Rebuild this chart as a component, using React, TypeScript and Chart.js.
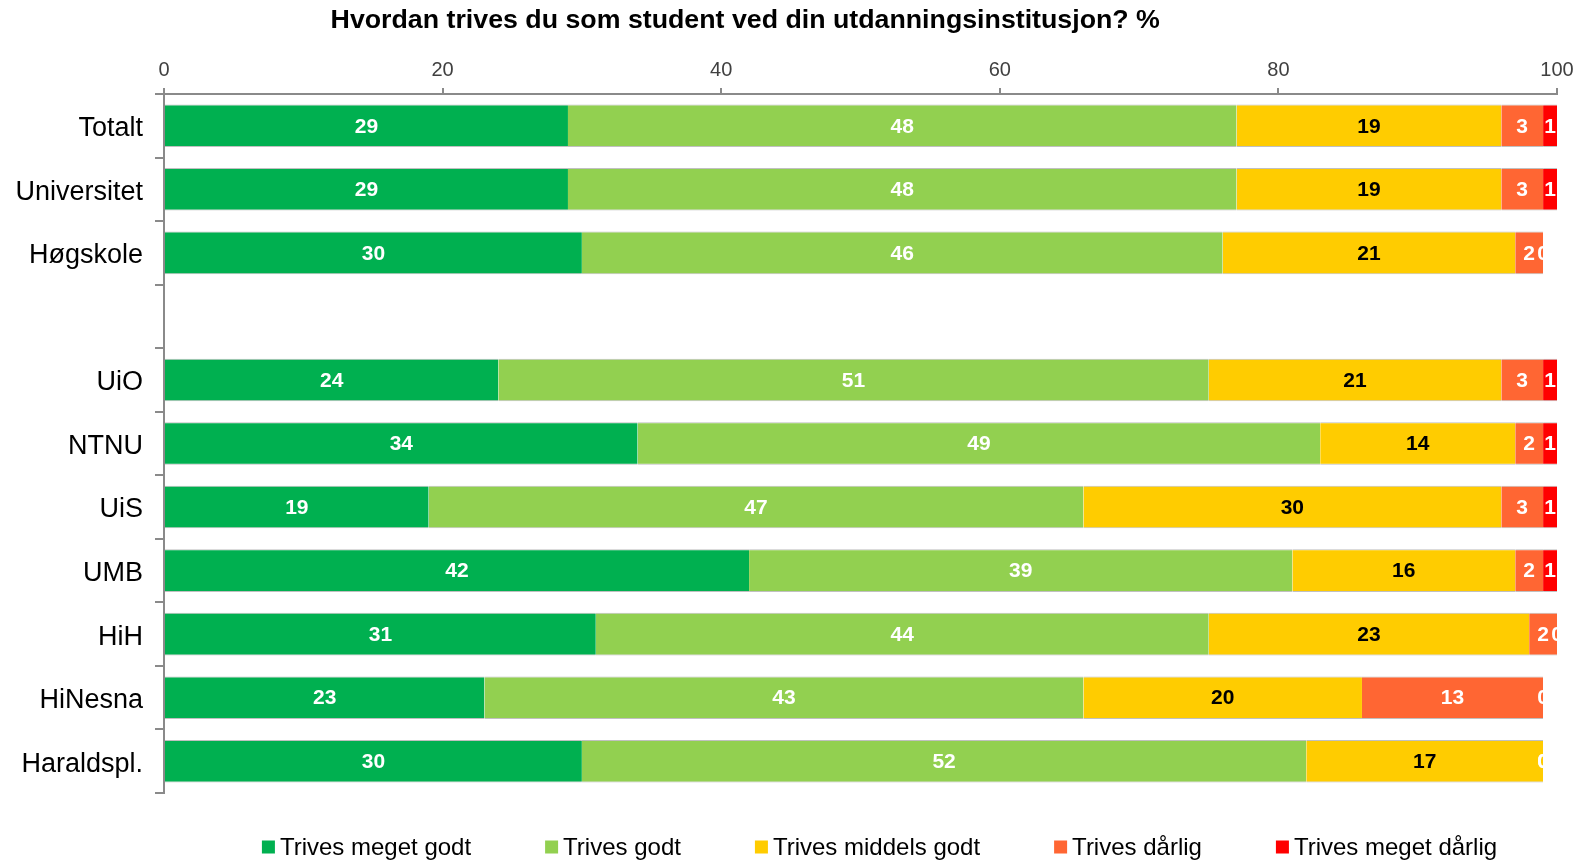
import { useEffect, useRef } from 'react';
import { Chart, registerables } from 'chart.js';

Chart.register(...registerables);

const TITLE = 'Hvordan trives du som student ved din utdanningsinstitusjon? %';

const categories = ['Totalt', 'Universitet', 'Høgskole', '', 'UiO', 'NTNU', 'UiS', 'UMB', 'HiH', 'HiNesna', 'Haraldspl.'];

const seriesNames = ['Trives meget godt', 'Trives godt', 'Trives middels godt', 'Trives dårlig', 'Trives meget dårlig'];

const trivesMegetGodt = [29, 29, 30, null, 24, 34, 19, 42, 31, 23, 30];
const trivesGodt = [48, 48, 46, null, 51, 49, 47, 39, 44, 43, 52];
const trivesMiddelsGodt = [19, 19, 21, null, 21, 14, 30, 16, 23, 20, 17];
const trivesDarlig = [3, 3, 2, null, 3, 2, 3, 2, 2, 13, 0];
const trivesMegetDarlig = [1, 1, 0, null, 1, 1, 1, 1, 0, 0, 0];

const seriesColors = ['#00B050', '#92D050', '#FFCC00', '#FF6633', '#FF0000'];
const labelColors = ['#FFFFFF', '#FFFFFF', '#000000', '#FFFFFF', '#FFFFFF'];

const xTicks = [0, 20, 40, 60, 80, 100];

const FONT = '"Liberation Sans", Arial, Helvetica, sans-serif';

const titlePlugin = {
  id: 'customTitle',
  afterDraw(chart: any) {
    const ctx = chart.ctx;
    ctx.save();
    ctx.font = `bold 25px ${FONT}`;
    ctx.fillStyle = '#000000';
    ctx.textAlign = 'center';
    ctx.textBaseline = 'middle';
    ctx.translate(chart.width * 0.469, 21);
    ctx.scale(1.07, 1);
    ctx.fillText(TITLE, 0, 0);
    ctx.restore();
  },
};

const dataLabelPlugin = {
  id: 'dataLabels',
  afterDatasetsDraw(chart: any) {
    const ctx = chart.ctx;
    ctx.save();
    ctx.font = `bold 21px ${FONT}`;
    ctx.textAlign = 'center';
    ctx.textBaseline = 'middle';
    chart.data.datasets.forEach((ds: any, di: number) => {
      const meta = chart.getDatasetMeta(di);
      meta.data.forEach((el: any, i: number) => {
        const v = ds.data[i];
        if (v === null || v === undefined) return;
        const { x, base, y } = el.getProps(['x', 'base', 'y'], true);
        ctx.fillStyle = labelColors[di];
        ctx.fillText(String(v), (x + base) / 2, y + 1);
      });
    });
    ctx.restore();
  },
};

const legendPlugin = {
  id: 'customLegend',
  afterDraw(chart: any) {
    const ctx = chart.ctx;
    const area = chart.chartArea;
    ctx.save();
    ctx.font = `24px ${FONT}`;
    const box = 13;
    const gap = 5;
    const spacing = 74;
    const widths = seriesNames.map((n) => box + gap + ctx.measureText(n).width);
    const total = widths.reduce((a, b) => a + b, 0) + spacing * (widths.length - 1);
    let x = (area.left + area.right) / 2 + 19 - total / 2;
    const y = area.bottom + 54;
    seriesNames.forEach((n, i) => {
      ctx.fillStyle = seriesColors[i];
      ctx.fillRect(x, y - box / 2, box, box);
      ctx.fillStyle = '#000000';
      ctx.textAlign = 'left';
      ctx.textBaseline = 'middle';
      ctx.fillText(n, x + box + gap, y + 1);
      x += widths[i] + spacing;
    });
    ctx.restore();
  },
};

export default function App() {
  const canvasRef = useRef<HTMLCanvasElement | null>(null);

  useEffect(() => {
    if (!canvasRef.current) return;
    Chart.defaults.font.family = FONT;
    const seriesData = [trivesMegetGodt, trivesGodt, trivesMiddelsGodt, trivesDarlig, trivesMegetDarlig];
    const chart = new Chart(canvasRef.current, {
      type: 'bar',
      data: {
        labels: categories,
        datasets: seriesNames.map((name, i) => ({
          label: name,
          data: seriesData[i],
          backgroundColor: seriesColors[i],
          borderColor: '#C0C0C0',
          borderWidth: { top: 1, bottom: 1, left: 0, right: 0 },
          borderSkipped: false,
          barPercentage: 0.67,
          categoryPercentage: 1,
        })),
      },
      options: {
        indexAxis: 'y',
        animation: false,
        responsive: true,
        maintainAspectRatio: false,
        layout: { padding: { top: 41, right: 32, bottom: 67, left: 0 } },
        plugins: {
          legend: { display: false },
          title: { display: false },
          tooltip: { enabled: false },
        },
        scales: {
          x: {
            type: 'linear',
            position: 'top',
            stacked: true,
            min: 0,
            max: 100,
            afterBuildTicks: (s: any) => {
              s.ticks = xTicks.map((v) => ({ value: v }));
            },
            ticks: { font: { size: 20 }, color: '#404040', padding: 6 },
            grid: { drawOnChartArea: false, drawTicks: true, tickLength: 6, color: '#8A8A8A', lineWidth: 2 },
            border: { display: true, color: '#8A8A8A', width: 2 },
            afterFit: (s: any) => {
              s.height = 53;
            },
          },
          y: {
            type: 'category',
            stacked: true,
            ticks: { font: { size: 27 }, color: '#000000', padding: 12, autoSkip: false, labelOffset: 3 },
            grid: { drawOnChartArea: false, drawTicks: true, tickLength: 9, color: '#8A8A8A', lineWidth: 2, offset: true },
            border: { display: true, color: '#8A8A8A', width: 2 },
            afterFit: (s: any) => {
              s.width = 164;
            },
          },
        },
      },
      plugins: [dataLabelPlugin, titlePlugin, legendPlugin],
    } as any);
    return () => chart.destroy();
  }, []);

  return (
    <div style={{ position: 'absolute', left: 0, top: 0, width: 1589, height: 860, background: '#FFFFFF' }}>
      <canvas ref={canvasRef} />
    </div>
  );
}
